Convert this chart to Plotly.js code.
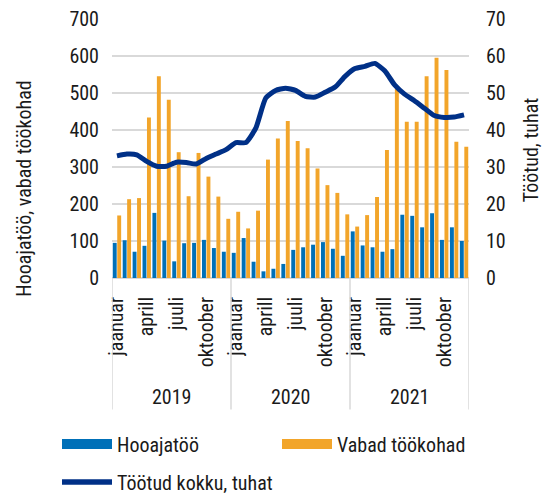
<!DOCTYPE html>
<html>
<head>
<meta charset="utf-8">
<script src="https://cdn.plot.ly/plotly-3.0.1.min.js"></script>
<style>html,body{margin:0;padding:0;background:#fff;}#chart{width:544px;height:494px;}</style>
</head>
<body>
<div id="chart"></div>
<script>
const years = ['2019', '2020', '2021'];
const monthLabels = ['jaanuar', 'aprill', 'juuli', 'oktoober'];
const monthsPerYear = 12;
const leftTitle = 'Hooajatöö, vabad töökohad';
const rightTitle = 'Töötud, tuhat';

const hooajatoo = [
  95, 102, 71, 87, 176, 101, 45, 94, 95, 103, 81, 71,
  68, 108, 44, 18, 25, 38, 76, 83, 90, 97, 79, 60,
  126, 88, 83, 71, 78, 171, 168, 137, 175, 103, 137, 100
];
const vabad = [
  169, 213, 216, 434, 545, 482, 340, 221, 338, 274, 220, 160,
  179, 134, 182, 320, 377, 424, 370, 351, 296, 251, 230, 172,
  139, 170, 219, 346, 513, 422, 422, 545, 595, 562, 368, 355
];
const tootud = [
  33.0, 33.5, 33.3, 31.5, 30.2, 30.2, 31.3, 31.2, 30.8, 32.3, 33.5, 34.7,
  36.6, 36.6, 40.5, 48.6, 50.7, 51.3, 50.7, 49.1, 48.9, 50.2, 51.6, 54.5,
  56.6, 57.2, 58.0, 56.0, 52.2, 49.7, 47.9, 45.9, 43.9, 43.4, 43.5, 44.1
];

const xIdx = hooajatoo.map((_, i) => i);
const tickvals = [], ticktext = [];
years.forEach((y, k) => {
  monthLabels.forEach((m, j) => { tickvals.push(k * monthsPerYear + j * 3); ticktext.push(m); });
});

const FONT = 'Roboto Condensed, Liberation Sans Narrow, DejaVu Sans Condensed, Roboto, sans-serif';
const FS = 20;
const BLUE = '#0070b8', ORANGE = '#f2a52a', NAVY = '#003087', GRID = '#d9d9d9', TXT = '#1a1a1a';

const traces = [
  {type: 'bar', x: xIdx, y: hooajatoo, name: 'Hooajatöö', marker: {color: BLUE}, showlegend: false},
  {type: 'bar', x: xIdx, y: vabad, name: 'Vabad töökohad', marker: {color: ORANGE}, showlegend: false},
  {type: 'scatter', mode: 'lines', x: xIdx, y: tootud, yaxis: 'y2', name: 'Töötud kokku, tuhat',
   line: {color: NAVY, width: 5, shape: 'spline', smoothing: 0.5}, showlegend: false},
  {type: 'scatter', mode: 'lines', x: [null], y: [null], name: 'Hooajatöö', line: {color: BLUE, width: 11}, legend: 'legend'},
  {type: 'scatter', mode: 'lines', x: [null], y: [null], name: 'Vabad töökohad', line: {color: ORANGE, width: 11}, legend: 'legend2'},
  {type: 'scatter', mode: 'lines', x: [null], y: [null], name: 'Töötud kokku, tuhat', yaxis: 'y2', line: {color: NAVY, width: 5.5}, legend: 'legend3'}
];

const shapes = [];
for (let k = 0; k <= years.length; k++) {
  shapes.push({type: 'line', xref: 'x', yref: 'paper', x0: k * monthsPerYear - 0.5, x1: k * monthsPerYear - 0.5,
    y0: 0, y1: -0.508, line: {color: GRID, width: 1.5}});
}
const annotations = years.map((y, k) => ({
  text: y, xref: 'x', yref: 'paper', x: k * monthsPerYear + 5.5, y: -0.46, showarrow: false,
  font: {family: FONT, size: FS, color: TXT}, yanchor: 'middle'
}));
annotations.push({text: leftTitle, xref: 'paper', yref: 'paper', x: -0.2465, y: 0.345, textangle: -90,
  showarrow: false, xanchor: 'center', yanchor: 'middle', font: {family: FONT, size: FS, color: TXT}});
annotations.push({text: rightTitle, xref: 'paper', yref: 'paper', x: 1.174, y: 0.494, textangle: -90,
  showarrow: false, xanchor: 'center', yanchor: 'middle', font: {family: FONT, size: FS, color: TXT}});

const legendCommon = {orientation: 'h', xref: 'container', yref: 'container', xanchor: 'left', yanchor: 'middle',
  itemwidth: 50, font: {family: FONT, size: FS, color: TXT}, bgcolor: 'rgba(0,0,0,0)'};

const layout = {
  width: 544, height: 494,
  margin: {l: 112, r: 75, t: 19, b: 216, autoexpand: false},
  paper_bgcolor: '#fff', plot_bgcolor: '#fff',
  font: {family: FONT, size: FS, color: TXT},
  barmode: 'group', bargap: 0.1, bargroupgap: 0.12,
  xaxis: {range: [-0.5, 35.5], tickmode: 'array', tickvals: tickvals, ticktext: ticktext,
    tickangle: -90, ticks: '', showgrid: false, zeroline: false, showline: false,
    ticklabelstandoff: 14, tickfont: {family: FONT, size: FS, color: TXT}},
  yaxis: {range: [0, 700], dtick: 100, showgrid: true, gridcolor: GRID, gridwidth: 1.5,
    zeroline: true, zerolinecolor: GRID, zerolinewidth: 1.5, ticks: '', showline: false,
    ticklabelstandoff: 12, tickfont: {family: FONT, size: FS, color: TXT}},
  yaxis2: {range: [0, 70], dtick: 10, overlaying: 'y', side: 'right', showgrid: false, zeroline: false,
    ticks: '', showline: false, ticklabelstandoff: 16,
    tickfont: {family: FONT, size: FS, color: TXT}},
  legend: Object.assign({}, legendCommon, {x: 57 / 544, y: 1 - 444 / 494}),
  legend2: Object.assign({}, legendCommon, {x: 277 / 544, y: 1 - 444 / 494}),
  legend3: Object.assign({}, legendCommon, {x: 57 / 544, y: 1 - 482 / 494}),
  shapes: shapes, annotations: annotations,
  showlegend: true
};

Plotly.newPlot('chart', traces, layout, {displayModeBar: false, staticPlot: true});
</script>
</body>
</html>
